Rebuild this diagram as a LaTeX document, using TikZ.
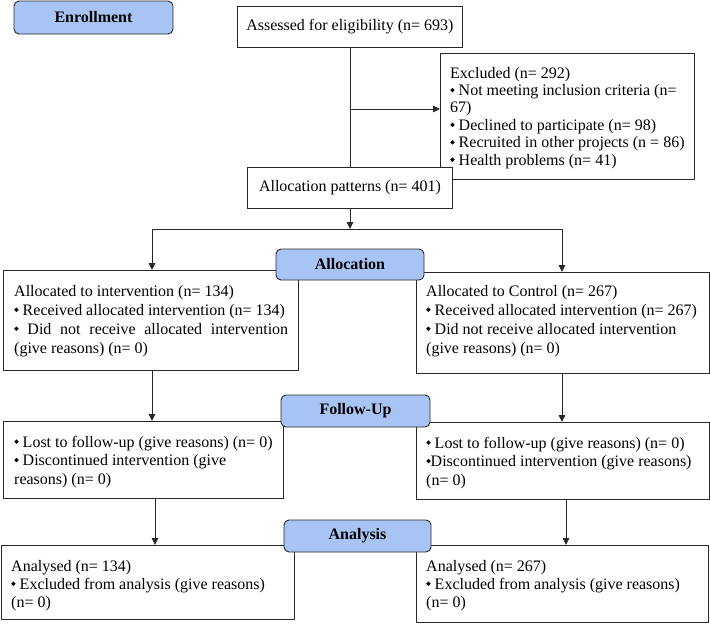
\documentclass[tikz,border=0pt]{standalone}
\usepackage{fontspec}
\setmainfont{Liberation Serif}
\usetikzlibrary{arrows.meta,calc}
\definecolor{labelblue}{RGB}{168,196,244}
\definecolor{linegray}{RGB}{40,40,40}
\newcommand{\bul}{\raisebox{0.2em}{\rotatebox{45}{\rule{3.2pt}{3.2pt}}}}
\begin{document}
\begin{tikzpicture}[x=1pt,y=-1pt,
  box/.style={draw=linegray, line width=0.9pt, anchor=north west, inner sep=0pt, fill=white},
  lbl/.style={draw=linegray, line width=0.9pt, fill=labelblue, rounded corners=5pt, inner sep=0pt, font=\fontsize{16}{19}\selectfont\bfseries},
  txt/.style={anchor=north west, inner sep=0pt, align=left, font=\fontsize{16}{#1}\selectfont},
  arr/.style={draw=linegray, line width=0.9pt, -{Triangle[length=7pt,width=6.5pt]}},
  ln/.style={draw=linegray, line width=0.9pt}]
\useasboundingbox (0,0) rectangle (710,624);

% boxes
\node[box, minimum width=225pt, minimum height=41pt, font=\fontsize{16}{19}\selectfont] (assess) at (237,6) {Assessed for eligibility (n= 693)};
\node[box, minimum width=254pt, minimum height=126pt] (excl) at (440,53) {};
\node[box, minimum width=205pt, minimum height=41pt, font=\fontsize{16}{19}\selectfont] (alloc) at (247,167) {Allocation patterns (n= 401)};
\node[box, minimum width=295pt, minimum height=100pt] (lalloc) at (3,270) {};
\node[box, minimum width=293pt, minimum height=101pt] (ralloc) at (416,272) {};
\node[box, minimum width=280pt, minimum height=77pt] (lfu) at (3,421) {};
\node[box, minimum width=293pt, minimum height=77pt] (rfu) at (416,422) {};
\node[box, minimum width=293pt, minimum height=74pt] (lan) at (1,545) {};
\node[box, minimum width=292pt, minimum height=77pt] (ran) at (416,545) {};

% texts
\node[txt=17.4] (texcl) at (450,65.8) {\strut Excluded (n= 292)\\
\bul{} Not meeting inclusion criteria (n=\\
67)\\
\bul{} Declined to participate (n= 98)\\
\bul{} Recruited in other projects (n = 86)\\
\bul{} Health problems (n= 41)};
\node[txt=19] (tlalloc) at (14,282.7) {\strut Allocated to intervention (n= 134)\\
\bul{} Received allocated intervention (n= 134)\\
\makebox[274pt][s]{\bul{} Did not receive allocated intervention}\\
(give reasons) (n= 0)};
\node[txt=19] (tralloc) at (426,282.7) {\strut Allocated to Control (n= 267)\\
\bul{} Received allocated intervention (n= 267)\\
\bul{} Did not receive allocated intervention\\
(give reasons) (n= 0)};
\node[txt=18.5] (tlfu) at (14,434) {\strut\bul{} Lost to follow-up (give reasons) (n= 0)\\
\bul{} Discontinued intervention (give\\
reasons) (n= 0)};
\node[txt=18.5] (trfu) at (426,435) {\strut\bul{} Lost to follow-up (give reasons) (n= 0)\\
\bul{}Discontinued intervention (give reasons)\\
(n= 0)};
\node[txt=18] (tlan) at (11,558.4) {\strut Analysed (n= 134)\\
\bul{} Excluded from analysis (give reasons)\\
(n= 0)};
\node[txt=18] (tran) at (426,558.4) {\strut Analysed (n= 267)\\
\bul{} Excluded from analysis (give reasons)\\
(n= 0)};

% connectors
\coordinate (br) at (350,109);
\coordinate (split) at (350,229);
\coordinate (cl) at (152,0);
\coordinate (cr) at (562,0);
\coordinate (cl2) at (155,0);
\coordinate (cr2) at (566,0);
\draw[ln] (assess.south -| br) -- (alloc.north -| br);
\draw[arr] (br) -- (br -| excl.west);
\draw[arr] (alloc.south -| split) -- (split);
\draw[arr] (split) -| (lalloc.north -| cl);
\draw[arr] (split) -| (ralloc.north -| cr);
\draw[arr] (lalloc.south -| cl) -- (lfu.north -| cl);
\draw[arr] (ralloc.south -| cr) -- (rfu.north -| cr);
\draw[arr] (lfu.south -| cl2) -- (lan.north -| cl2);
\draw[arr] (rfu.south -| cr2) -- (ran.north -| cr2);

% stage labels
\node[lbl, minimum width=159pt, minimum height=33pt] (enr) at (93.5,17.5) {Enrollment};
\node[lbl, minimum width=148pt, minimum height=31pt] (lalloclbl) at (350,264.5) {Allocation};
\node[lbl, minimum width=149pt, minimum height=32pt] (lfulbl) at (355.5,411) {Follow-Up};
\node[lbl, minimum width=147pt, minimum height=32pt] (lanlbl) at (357.5,536) {Analysis};
\end{tikzpicture}
\end{document}
